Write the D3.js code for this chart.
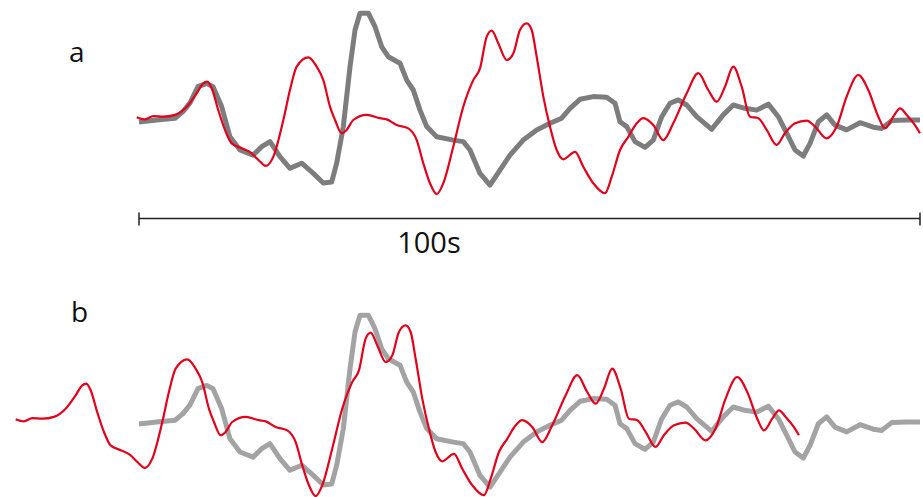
<!DOCTYPE html>
<html>
<head>
<meta charset="utf-8">
<script src="https://cdn.jsdelivr.net/npm/d3@7"></script>
<style>
  html, body { margin: 0; padding: 0; background: #fff; }
  svg { display: block; }
  text { font-family: "Open Sans", "Noto Sans", sans-serif; fill: #111; }
</style>
</head>
<body>
<svg id="chart" width="923" height="497"></svg>
<script>
// Reference signal (grey): time in seconds, standardised amplitude
const greyTime = [0, 2.27, 4.61, 5.63, 6.53, 7.55, 8.67, 9.48, 10.59, 11.65, 12.93, 14.6, 15.71, 16.77, 18.05, 19.33,
  20.83, 22.32, 23.6, 24.67, 25.31, 26.16, 27.02, 27.66, 28.3, 29.36, 30.22, 31.08, 31.92, 33.42, 34.28, 35.12,
  35.98, 36.84, 38.12, 40.24, 41.52, 42.38, 43.66, 44.94, 46.22, 47.5, 49.2, 50.92, 52.62, 54.12, 55.19, 56.47,
  58.17, 59.88, 60.95, 61.59, 62.45, 63.51, 64.79, 65.85, 66.93, 67.99, 69.05, 70.13, 71.41, 72.69, 73.33, 74.81,
  76.09, 77.59, 79.09, 80.58, 81.86, 82.93, 84.0, 85.06, 85.92, 86.98, 88.05, 89.12, 90.61, 92.32, 94.02, 95.1,
  96.38, 98.3, 100];
const greyValue = [-0.07, 0.0, 0.06, 0.28, 0.57, 1.11, 1.22, 1.11, 0.44, -0.56, -1.0, -1.17, -0.89, -0.72, -1.22, -1.61,
  -1.44, -1.78, -2.1, -2.07, -1.44, -0.22, 1.78, 3.0, 3.56, 3.56, 3.11, 2.44, 2.11, 1.89, 1.33, 1.0,
  0.33, -0.22, -0.56, -0.67, -0.72, -1.0, -1.78, -2.17, -1.67, -1.17, -0.67, -0.33, -0.11, 0.06, 0.39, 0.69,
  0.78, 0.76, 0.56, -0.06, -0.22, -0.72, -0.91, -0.67, 0.11, 0.56, 0.67, 0.5, 0.11, -0.17, -0.31, 0.17,
  0.5, 0.39, 0.33, 0.53, 0.11, -0.44, -1.0, -1.2, -0.78, -0.06, 0.17, -0.17, -0.33, -0.09, -0.24, -0.28,
  -0.02, 0, 0];

// Response signal (red): time in seconds, standardised amplitude
const redTime = [-0.29, 0.77, 1.83, 3.11, 4.61, 6.11, 7.39, 8.23, 8.75, 9.31, 10.15, 11.01, 11.87, 13.15, 14.43, 15.28,
  16.26, 17.2, 18.48, 19.33, 20.19, 21.68, 22.75, 23.6, 24.46, 25.1, 25.95, 26.59, 27.44, 29.15, 30.86, 31.72,
  33.0, 34.48, 35.56, 36.4, 37.26, 38.12, 38.96, 40.24, 41.52, 42.8, 43.66, 44.52, 45.16, 46.0, 47.08, 47.93,
  48.78, 49.64, 50.28, 50.92, 51.77, 52.62, 53.48, 54.33, 55.83, 56.89, 58.17, 59.67, 60.53, 61.59, 62.65, 63.73,
  64.57, 65.85, 67.13, 68.41, 70.13, 71.61, 72.89, 73.97, 75.03, 76.09, 77.17, 78.23, 79.3, 80.37, 81.65, 82.71,
  84.0, 85.49, 86.56, 88.05, 89.33, 90.61, 92.1, 93.38, 94.66, 95.52, 96.58, 97.44, 98.3, 99.36, 100.0];
const redValue = [0.09, 0.02, 0.13, 0.11, 0.17, 0.44, 0.89, 1.22, 1.28, 1.06, 0.33, -0.33, -0.78, -0.94, -1.11, -1.33,
  -1.53, -1.22, 0, 1.0, 1.78, 2.09, 1.78, 1.33, 0.44, 0, -0.44, -0.33, 0, 0.17, 0.06, 0.02,
  -0.17, -0.28, -0.67, -1.44, -2.11, -2.47, -2.11, -0.89, 0.44, 1.33, 1.72, 2.78, 2.98, 2.56, 2.0, 2.22,
  3.0, 3.22, 3.0, 2.11, 0.78, -0.22, -1.0, -1.31, -1.06, -1.56, -2.11, -2.44, -1.89, -1.0, -0.56, -0.11,
  0.06, -0.17, -0.67, -0.11, 0.89, 1.56, 1.0, 0.61, 1.11, 1.78, 1.11, 0.11, 0.06, -0.33, -0.83, -0.44,
  -0.11, -0.02, -0.22, -0.61, -0.22, 0.78, 1.5, 1.0, 0.11, -0.28, 0.11, 0.39, 0.17, -0.17, -0.44];

// Lag (s) applied to the red signal in panel b
const lagSeconds = 15.5;

// Scale bar
const scaleBarSeconds = [0, 100];
const scaleBarLabel = "100s";
const panelLabels = ["a", "b"];

const svg = d3.select("#chart");

const x = d3.scaleLinear().domain([0, 100]).range([139, 920]);
const yA = d3.scaleLinear().domain([-3, 4]).range([210, 0]);
const yB = d3.scaleLinear().domain([-3, 4]).range([512, 302]);

const grey = greyTime.map((t, i) => ({ t, v: greyValue[i] }));
const red = redTime.map((t, i) => ({ t, v: redValue[i] }));

function drawPanel(yScale, shift, greyColor) {
  const g = svg.append("g");
  const greyLine = d3.line().x(d => x(d.t)).y(d => yScale(d.v)).curve(d3.curveLinear);
  const redLine = d3.line().x(d => x(d.t - shift)).y(d => yScale(d.v)).curve(d3.curveMonotoneX);
  g.append("path")
    .datum(grey)
    .attr("d", greyLine)
    .attr("fill", "none")
    .attr("stroke", greyColor)
    .attr("stroke-width", 5)
    .attr("stroke-linejoin", "round");
  g.append("path")
    .datum(red)
    .attr("d", redLine)
    .attr("fill", "none")
    .attr("stroke", "#e3001b")
    .attr("stroke-width", 2.2)
    .attr("stroke-linejoin", "round");
}

drawPanel(yA, 0, "#7d7d7d");
drawPanel(yB, lagSeconds, "#a3a3a3");

// Scale bar under panel a
const barY = 218.5;
svg.append("line")
  .attr("x1", x(scaleBarSeconds[0])).attr("x2", x(scaleBarSeconds[1]))
  .attr("y1", barY).attr("y2", barY)
  .attr("stroke", "#222").attr("stroke-width", 1.5);
svg.selectAll(".bar-tick")
  .data(scaleBarSeconds)
  .enter().append("line")
  .attr("class", "bar-tick")
  .attr("x1", d => x(d)).attr("x2", d => x(d))
  .attr("y1", barY - 6).attr("y2", barY + 7)
  .attr("stroke", "#222").attr("stroke-width", 1.5);
svg.append("text")
  .attr("x", 429).attr("y", 253)
  .attr("text-anchor", "middle")
  .attr("font-size", 29)
  .text(scaleBarLabel);

// Panel letters
svg.selectAll(".panel-label")
  .data(panelLabels)
  .enter().append("text")
  .attr("class", "panel-label")
  .attr("x", (d, i) => i === 0 ? 69 : 71)
  .attr("y", (d, i) => i === 0 ? 62 : 322)
  .attr("font-size", 28)
  .text(d => d);
</script>
</body>
</html>
